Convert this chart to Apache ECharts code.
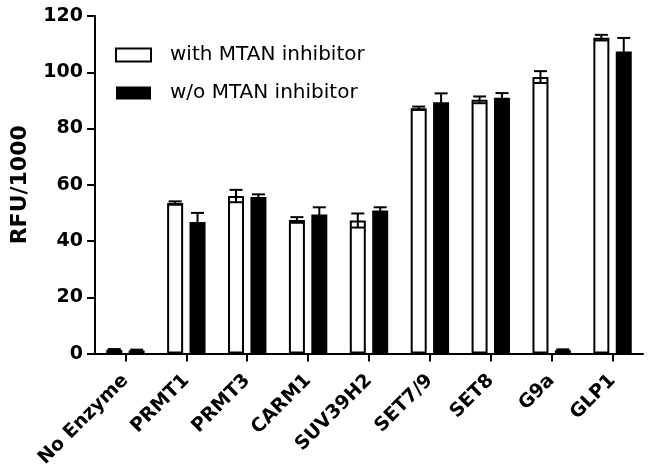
<!DOCTYPE html>
<html>
<head>
<meta charset="utf-8">
<script src="https://cdn.jsdelivr.net/npm/echarts@6/dist/echarts.min.js"></script>
<style>
html,body{margin:0;padding:0;background:#fff;}
#chart{width:654px;height:470px;}
</style>
</head>
<body>
<div id="chart"></div>
<script>
var categories = ['No Enzyme','PRMT1','PRMT3','CARM1','SUV39H2','SET7/9','SET8','G9a','GLP1'];
var withInhibitor = [1.3, 53.5, 56.0, 47.5, 47.3, 87.2, 90.2, 98.3, 112.3];
var withInhibitorErr = [0.3, 0.6, 2.2, 1.0, 2.5, 0.6, 1.2, 2.1, 1.0];
var withoutInhibitor = [1.1, 46.8, 55.7, 49.4, 50.9, 89.3, 90.9, 1.2, 107.4];
var withoutInhibitorErr = [0.3, 3.2, 0.9, 2.6, 1.1, 3.2, 1.7, 0.3, 4.8];
var yTicks = {min: 0, max: 120, interval: 20};
var seriesNames = ['with MTAN inhibitor', 'w/o MTAN inhibitor'];

var BAR_W = 16, GAP_RATIO = 0.4;
var OFFSET = BAR_W / 2 + BAR_W * GAP_RATIO / 2;

function errData(vals, errs) {
  return vals.map(function (v, i) { return [i, v, errs[i]]; });
}
function errRender(sign) {
  return function (params, api) {
    var idx = api.value(0), v = api.value(1), e = api.value(2);
    var hi = api.coord([idx, v + e]);
    var lo = api.coord([idx, v - e]);
    var x = hi[0] + sign * OFFSET;
    var cap = 6.5;
    var style = {stroke: '#000', lineWidth: 2};
    return {
      type: 'group',
      children: [
        {type: 'line', shape: {x1: x, y1: hi[1], x2: x, y2: lo[1]}, style: style},
        {type: 'line', shape: {x1: x - cap, y1: hi[1], x2: x + cap, y2: hi[1]}, style: style},
        {type: 'line', shape: {x1: x - cap, y1: lo[1], x2: x + cap, y2: lo[1]}, style: style}
      ]
    };
  };
}

var chart = echarts.init(document.getElementById('chart'), null, {renderer: 'canvas'});
chart.setOption({
  animation: false,
  backgroundColor: '#fff',
  textStyle: {fontFamily: 'DejaVu Sans', color: '#000'},
  grid: {left: 95, right: 11, top: 16, bottom: 115, containLabel: false},
  legend: {
    orient: 'vertical',
    left: 110,
    top: 40,
    itemWidth: 35,
    itemHeight: 13,
    itemGap: 18,
    icon: 'rect',
    data: seriesNames,
    textStyle: {fontFamily: 'DejaVu Sans', fontSize: 20, color: '#000', padding: [0, 0, 0, 14]}
  },
  xAxis: {
    type: 'category',
    data: categories,
    axisLine: {lineStyle: {color: '#000', width: 2}},
    axisTick: {show: true, alignWithLabel: true, length: 8, lineStyle: {color: '#000', width: 2}},
    axisLabel: {rotate: 45, margin: 24, interval: 0, fontFamily: 'DejaVu Sans', fontWeight: 'bold', fontSize: 19, color: '#000'}
  },
  yAxis: {
    type: 'value',
    min: yTicks.min,
    max: yTicks.max,
    interval: yTicks.interval,
    name: 'RFU/1000',
    nameLocation: 'middle',
    nameGap: 64,
    nameRotate: 90,
    nameTextStyle: {fontFamily: 'DejaVu Sans', fontWeight: 'bold', fontSize: 22, color: '#000'},
    splitLine: {show: false},
    axisLine: {show: true, lineStyle: {color: '#000', width: 2}},
    axisTick: {show: true, length: 8, lineStyle: {color: '#000', width: 2}},
    axisLabel: {margin: 12, fontFamily: 'DejaVu Sans', fontWeight: 'bold', fontSize: 19, color: '#000'}
  },
  series: [
    {
      name: seriesNames[0], type: 'bar', data: withInhibitor,
      barWidth: BAR_W, barGap: (GAP_RATIO * 100) + '%',
      itemStyle: {color: '#fff', borderColor: '#000', borderWidth: 2}
    },
    {
      name: seriesNames[1], type: 'bar', data: withoutInhibitor,
      barWidth: BAR_W,
      itemStyle: {color: '#000', borderColor: '#000', borderWidth: 0}
    },
    {
      type: 'custom', renderItem: errRender(-1), data: errData(withInhibitor, withInhibitorErr),
      encode: {x: 0, y: 1}, z: 5, silent: true
    },
    {
      type: 'custom', renderItem: errRender(1), data: errData(withoutInhibitor, withoutInhibitorErr),
      encode: {x: 0, y: 1}, z: 5, silent: true
    }
  ]
});
</script>
</body>
</html>
